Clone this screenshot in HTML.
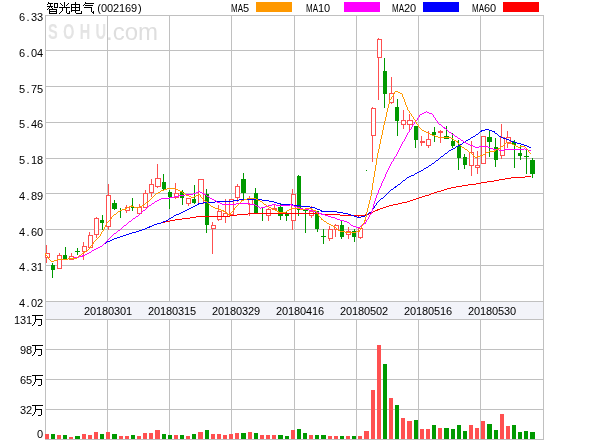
<!DOCTYPE html>
<html><head><meta charset="utf-8"><title>智光电气(002169)</title>
<style>
html,body{margin:0;padding:0;background:#fff;}
body{width:600px;height:440px;position:relative;overflow:hidden;font-family:"Liberation Sans",sans-serif;}
svg{position:absolute;left:0;top:0;}
.t{position:absolute;font-family:"Liberation Sans",sans-serif;font-size:11px;line-height:12px;height:12px;color:#000;white-space:nowrap;letter-spacing:-0.117px;will-change:transform;}
.r{text-align:right;}
.p{display:inline-block;width:6px;text-align:center;letter-spacing:0;}
.pr{text-align:right;}
.pl{text-align:left;padding-left:1px;width:5px;}
.ma{display:inline-block;width:12px;letter-spacing:0;transform:scaleX(0.727);transform-origin:0 50%;}
.cj{display:inline-block;width:12px;height:1px;overflow:hidden;color:transparent;font-size:1px;letter-spacing:0;vertical-align:baseline;}
.wm{position:absolute;color:#e4e4e4;font-family:"Liberation Sans",sans-serif;white-space:nowrap;will-change:transform;}
</style></head>
<body>
<svg width="600" height="440" viewBox="0 0 600 440" shape-rendering="crispEdges">
<rect x="45" y="301" width="499" height="19" fill="#f2f3f9"/>
<rect x="45" y="15" width="499" height="1" fill="#c0c0c0"/>
<rect x="45" y="50" width="499" height="1" fill="#c0c0c0"/>
<rect x="45" y="86" width="499" height="1" fill="#c0c0c0"/>
<rect x="45" y="122" width="499" height="1" fill="#c0c0c0"/>
<rect x="45" y="158" width="499" height="1" fill="#c0c0c0"/>
<rect x="45" y="193" width="499" height="1" fill="#c0c0c0"/>
<rect x="45" y="229" width="499" height="1" fill="#c0c0c0"/>
<rect x="45" y="265" width="499" height="1" fill="#c0c0c0"/>
<rect x="45" y="301" width="499" height="1" fill="#c0c0c0"/>
<rect x="45" y="319" width="499" height="1" fill="#c0c0c0"/>
<rect x="45" y="349" width="499" height="1" fill="#c0c0c0"/>
<rect x="45" y="379" width="499" height="1" fill="#c0c0c0"/>
<rect x="45" y="409" width="499" height="1" fill="#c0c0c0"/>
<rect x="45" y="439" width="499" height="1" fill="#c0c0c0"/>
<rect x="45" y="15" width="1" height="287" fill="#c0c0c0"/>
<rect x="45" y="319" width="1" height="121" fill="#c0c0c0"/>
<rect x="107" y="15" width="1" height="287" fill="#c0c0c0"/>
<rect x="107" y="319" width="1" height="121" fill="#c0c0c0"/>
<rect x="169" y="15" width="1" height="287" fill="#c0c0c0"/>
<rect x="169" y="319" width="1" height="121" fill="#c0c0c0"/>
<rect x="231" y="15" width="1" height="287" fill="#c0c0c0"/>
<rect x="231" y="319" width="1" height="121" fill="#c0c0c0"/>
<rect x="294" y="15" width="1" height="287" fill="#c0c0c0"/>
<rect x="294" y="319" width="1" height="121" fill="#c0c0c0"/>
<rect x="356" y="15" width="1" height="287" fill="#c0c0c0"/>
<rect x="356" y="319" width="1" height="121" fill="#c0c0c0"/>
<rect x="418" y="15" width="1" height="287" fill="#c0c0c0"/>
<rect x="418" y="319" width="1" height="121" fill="#c0c0c0"/>
<rect x="480" y="15" width="1" height="287" fill="#c0c0c0"/>
<rect x="480" y="319" width="1" height="121" fill="#c0c0c0"/>
<rect x="543" y="15" width="1" height="287" fill="#c0c0c0"/>
<rect x="543" y="319" width="1" height="121" fill="#c0c0c0"/>
<rect x="45" y="15" width="1" height="425" fill="#c0c0c0"/>
<rect x="543" y="15" width="1" height="425" fill="#c0c0c0"/>
<rect x="45" y="434" width="4" height="5" fill="#ff5050"/>
<rect x="51" y="434" width="4" height="5" fill="#009900"/>
<rect x="57" y="435" width="4" height="4" fill="#ff5050"/>
<rect x="63" y="435" width="4" height="4" fill="#009900"/>
<rect x="69" y="437" width="4" height="2" fill="#ff5050"/>
<rect x="75" y="436" width="5" height="3" fill="#009900"/>
<rect x="82" y="434" width="4" height="5" fill="#ff5050"/>
<rect x="88" y="435" width="4" height="4" fill="#ff5050"/>
<rect x="94" y="432" width="4" height="7" fill="#ff5050"/>
<rect x="100" y="434" width="4" height="5" fill="#009900"/>
<rect x="106" y="432" width="4" height="7" fill="#ff5050"/>
<rect x="112" y="434" width="5" height="5" fill="#009900"/>
<rect x="119" y="436" width="4" height="3" fill="#ff5050"/>
<rect x="125" y="436" width="4" height="3" fill="#ff5050"/>
<rect x="131" y="435" width="4" height="4" fill="#009900"/>
<rect x="137" y="436" width="4" height="3" fill="#ff5050"/>
<rect x="143" y="433" width="4" height="6" fill="#ff5050"/>
<rect x="149" y="433" width="4" height="6" fill="#ff5050"/>
<rect x="155" y="430" width="5" height="9" fill="#ff5050"/>
<rect x="162" y="434" width="4" height="5" fill="#009900"/>
<rect x="168" y="435" width="4" height="4" fill="#009900"/>
<rect x="174" y="435" width="4" height="4" fill="#ff5050"/>
<rect x="180" y="435" width="4" height="4" fill="#009900"/>
<rect x="186" y="436" width="4" height="3" fill="#ff5050"/>
<rect x="192" y="434" width="4" height="5" fill="#009900"/>
<rect x="198" y="432" width="5" height="7" fill="#ff5050"/>
<rect x="205" y="430" width="4" height="9" fill="#009900"/>
<rect x="211" y="434" width="4" height="5" fill="#ff5050"/>
<rect x="217" y="434" width="4" height="5" fill="#ff5050"/>
<rect x="223" y="435" width="4" height="4" fill="#ff5050"/>
<rect x="229" y="434" width="4" height="5" fill="#ff5050"/>
<rect x="235" y="433" width="4" height="6" fill="#ff5050"/>
<rect x="241" y="433" width="5" height="6" fill="#009900"/>
<rect x="248" y="432" width="4" height="7" fill="#ff5050"/>
<rect x="254" y="433" width="4" height="6" fill="#009900"/>
<rect x="260" y="435" width="4" height="4" fill="#ff5050"/>
<rect x="266" y="435" width="4" height="4" fill="#ff5050"/>
<rect x="272" y="435" width="4" height="4" fill="#ff5050"/>
<rect x="278" y="435" width="5" height="4" fill="#009900"/>
<rect x="285" y="436" width="4" height="3" fill="#009900"/>
<rect x="291" y="430" width="4" height="9" fill="#ff5050"/>
<rect x="297" y="429" width="4" height="10" fill="#009900"/>
<rect x="303" y="433" width="4" height="6" fill="#009900"/>
<rect x="309" y="435" width="4" height="4" fill="#ff5050"/>
<rect x="315" y="435" width="4" height="4" fill="#009900"/>
<rect x="321" y="435" width="5" height="4" fill="#009900"/>
<rect x="328" y="436" width="4" height="3" fill="#ff5050"/>
<rect x="334" y="436" width="4" height="3" fill="#ff5050"/>
<rect x="340" y="436" width="4" height="3" fill="#009900"/>
<rect x="346" y="436" width="4" height="3" fill="#ff5050"/>
<rect x="352" y="436" width="4" height="3" fill="#009900"/>
<rect x="358" y="436" width="4" height="3" fill="#ff5050"/>
<rect x="364" y="431" width="5" height="8" fill="#ff5050"/>
<rect x="371" y="390" width="4" height="49" fill="#ff5050"/>
<rect x="377" y="345" width="4" height="94" fill="#ff5050"/>
<rect x="383" y="364" width="4" height="75" fill="#009900"/>
<rect x="389" y="398" width="4" height="41" fill="#ff5050"/>
<rect x="395" y="405" width="4" height="34" fill="#009900"/>
<rect x="401" y="418" width="4" height="21" fill="#ff5050"/>
<rect x="407" y="421" width="5" height="18" fill="#ff5050"/>
<rect x="414" y="420" width="4" height="19" fill="#009900"/>
<rect x="420" y="429" width="4" height="10" fill="#ff5050"/>
<rect x="426" y="429" width="4" height="10" fill="#ff5050"/>
<rect x="432" y="425" width="4" height="14" fill="#009900"/>
<rect x="438" y="428" width="4" height="11" fill="#ff5050"/>
<rect x="444" y="428" width="5" height="11" fill="#009900"/>
<rect x="451" y="429" width="4" height="10" fill="#009900"/>
<rect x="457" y="425" width="4" height="14" fill="#009900"/>
<rect x="463" y="431" width="4" height="8" fill="#009900"/>
<rect x="469" y="425" width="4" height="14" fill="#ff5050"/>
<rect x="475" y="428" width="4" height="11" fill="#ff5050"/>
<rect x="481" y="421" width="4" height="18" fill="#ff5050"/>
<rect x="487" y="424" width="5" height="15" fill="#009900"/>
<rect x="494" y="430" width="4" height="9" fill="#009900"/>
<rect x="500" y="414" width="4" height="25" fill="#ff5050"/>
<rect x="506" y="426" width="4" height="13" fill="#ff5050"/>
<rect x="512" y="425" width="4" height="14" fill="#009900"/>
<rect x="518" y="432" width="4" height="7" fill="#009900"/>
<rect x="524" y="431" width="4" height="8" fill="#009900"/>
<rect x="530" y="432" width="5" height="7" fill="#009900"/>
<rect x="46" y="245" width="1" height="18" fill="#ff5050"/>
<rect x="45.5" y="253.5" width="4" height="4" fill="#fff" stroke="#ff5050" stroke-width="1"/>
<rect x="52" y="263" width="1" height="15" fill="#009900"/>
<rect x="51" y="265" width="4" height="5" fill="#009900"/>
<rect x="59" y="253" width="1" height="16" fill="#ff5050"/>
<rect x="57.5" y="255.5" width="4" height="13" fill="#fff" stroke="#ff5050" stroke-width="1"/>
<rect x="65" y="247" width="1" height="12" fill="#009900"/>
<rect x="63" y="255" width="4" height="4" fill="#009900"/>
<rect x="71" y="253" width="1" height="7" fill="#ff5050"/>
<rect x="69.5" y="256.5" width="4" height="3" fill="#fff" stroke="#ff5050" stroke-width="1"/>
<rect x="77" y="248" width="1" height="7" fill="#009900"/>
<rect x="75" y="251" width="5" height="1" fill="#009900"/>
<rect x="83" y="242" width="1" height="18" fill="#ff5050"/>
<rect x="82.5" y="246.5" width="4" height="5" fill="#fff" stroke="#ff5050" stroke-width="1"/>
<rect x="89" y="232" width="1" height="16" fill="#ff5050"/>
<rect x="88.5" y="235.5" width="4" height="12" fill="#fff" stroke="#ff5050" stroke-width="1"/>
<rect x="96" y="217" width="1" height="21" fill="#ff5050"/>
<rect x="94.5" y="218.5" width="4" height="16" fill="#fff" stroke="#ff5050" stroke-width="1"/>
<rect x="102" y="215" width="1" height="15" fill="#009900"/>
<rect x="100" y="220" width="4" height="3" fill="#009900"/>
<rect x="108" y="184" width="1" height="46" fill="#ff5050"/>
<rect x="106.5" y="195.5" width="4" height="31" fill="#fff" stroke="#ff5050" stroke-width="1"/>
<rect x="114" y="200" width="1" height="10" fill="#009900"/>
<rect x="112" y="203" width="5" height="6" fill="#009900"/>
<rect x="120" y="208" width="1" height="10" fill="#009900"/>
<rect x="126" y="205" width="1" height="8" fill="#ff5050"/>
<rect x="125.5" y="207.5" width="4" height="3" fill="#fff" stroke="#ff5050" stroke-width="1"/>
<rect x="132" y="198" width="1" height="13" fill="#009900"/>
<rect x="131" y="207" width="5" height="1" fill="#009900"/>
<rect x="139" y="204" width="1" height="10" fill="#ff5050"/>
<rect x="137.5" y="207.5" width="4" height="6" fill="#fff" stroke="#ff5050" stroke-width="1"/>
<rect x="145" y="190" width="1" height="18" fill="#ff5050"/>
<rect x="143.5" y="193.5" width="4" height="14" fill="#fff" stroke="#ff5050" stroke-width="1"/>
<rect x="151" y="179" width="1" height="18" fill="#ff5050"/>
<rect x="149.5" y="184.5" width="4" height="8" fill="#fff" stroke="#ff5050" stroke-width="1"/>
<rect x="157" y="164" width="1" height="24" fill="#ff5050"/>
<rect x="155.5" y="178.5" width="5" height="8" fill="#fff" stroke="#ff5050" stroke-width="1"/>
<rect x="163" y="174" width="1" height="17" fill="#009900"/>
<rect x="162" y="182" width="4" height="7" fill="#009900"/>
<rect x="169" y="190" width="1" height="19" fill="#009900"/>
<rect x="168" y="192" width="4" height="5" fill="#009900"/>
<rect x="175" y="183" width="1" height="16" fill="#ff5050"/>
<rect x="174.5" y="193.5" width="4" height="4" fill="#fff" stroke="#ff5050" stroke-width="1"/>
<rect x="182" y="190" width="1" height="15" fill="#009900"/>
<rect x="180" y="192" width="4" height="6" fill="#009900"/>
<rect x="188" y="198" width="1" height="8" fill="#ff5050"/>
<rect x="186.5" y="198.5" width="4" height="5" fill="#fff" stroke="#ff5050" stroke-width="1"/>
<rect x="194" y="185" width="1" height="19" fill="#009900"/>
<rect x="192" y="199" width="4" height="4" fill="#009900"/>
<rect x="200" y="179" width="1" height="25" fill="#ff5050"/>
<rect x="198.5" y="179.5" width="5" height="24" fill="#fff" stroke="#ff5050" stroke-width="1"/>
<rect x="206" y="189" width="1" height="44" fill="#009900"/>
<rect x="205" y="194" width="4" height="31" fill="#009900"/>
<rect x="212" y="222" width="1" height="32" fill="#ff5050"/>
<rect x="211.5" y="225.5" width="4" height="3" fill="#fff" stroke="#ff5050" stroke-width="1"/>
<rect x="218" y="205" width="1" height="16" fill="#ff5050"/>
<rect x="217.5" y="211.5" width="4" height="8" fill="#fff" stroke="#ff5050" stroke-width="1"/>
<rect x="225" y="199" width="1" height="24" fill="#ff5050"/>
<rect x="223.5" y="213.5" width="4" height="3" fill="#fff" stroke="#ff5050" stroke-width="1"/>
<rect x="231" y="199" width="1" height="16" fill="#ff5050"/>
<rect x="229.5" y="199.5" width="4" height="15" fill="#fff" stroke="#ff5050" stroke-width="1"/>
<rect x="237" y="184" width="1" height="18" fill="#ff5050"/>
<rect x="235.5" y="186.5" width="4" height="11" fill="#fff" stroke="#ff5050" stroke-width="1"/>
<rect x="243" y="173" width="1" height="28" fill="#009900"/>
<rect x="241" y="179" width="5" height="14" fill="#009900"/>
<rect x="249" y="196" width="1" height="20" fill="#ff5050"/>
<rect x="248.5" y="199.5" width="4" height="5" fill="#fff" stroke="#ff5050" stroke-width="1"/>
<rect x="255" y="188" width="1" height="25" fill="#009900"/>
<rect x="254" y="193" width="4" height="20" fill="#009900"/>
<rect x="262" y="208" width="1" height="13" fill="#009900"/>
<rect x="268" y="208" width="1" height="13" fill="#ff5050"/>
<rect x="266.5" y="209.5" width="4" height="6" fill="#fff" stroke="#ff5050" stroke-width="1"/>
<rect x="274" y="205" width="1" height="5" fill="#ff5050"/>
<rect x="272" y="208" width="5" height="2" fill="#ff5050"/>
<rect x="280" y="204" width="1" height="16" fill="#009900"/>
<rect x="278" y="207" width="5" height="9" fill="#009900"/>
<rect x="286" y="211" width="1" height="10" fill="#009900"/>
<rect x="285" y="214" width="4" height="2" fill="#009900"/>
<rect x="292" y="189" width="1" height="41" fill="#ff5050"/>
<rect x="291.5" y="194.5" width="4" height="26" fill="#fff" stroke="#ff5050" stroke-width="1"/>
<rect x="298" y="175" width="1" height="41" fill="#009900"/>
<rect x="297" y="176" width="4" height="34" fill="#009900"/>
<rect x="305" y="209" width="1" height="24" fill="#009900"/>
<rect x="303" y="210" width="5" height="1" fill="#009900"/>
<rect x="311" y="206" width="1" height="12" fill="#ff5050"/>
<rect x="309.5" y="211.5" width="4" height="4" fill="#fff" stroke="#ff5050" stroke-width="1"/>
<rect x="317" y="211" width="1" height="21" fill="#009900"/>
<rect x="315" y="211" width="4" height="18" fill="#009900"/>
<rect x="323" y="229" width="1" height="15" fill="#009900"/>
<rect x="321" y="236" width="5" height="1" fill="#009900"/>
<rect x="329" y="226" width="1" height="15" fill="#ff5050"/>
<rect x="328.5" y="229.5" width="4" height="9" fill="#fff" stroke="#ff5050" stroke-width="1"/>
<rect x="335" y="224" width="1" height="13" fill="#ff5050"/>
<rect x="334.5" y="225.5" width="4" height="4" fill="#fff" stroke="#ff5050" stroke-width="1"/>
<rect x="341" y="221" width="1" height="18" fill="#009900"/>
<rect x="340" y="225" width="4" height="12" fill="#009900"/>
<rect x="348" y="227" width="1" height="12" fill="#ff5050"/>
<rect x="346.5" y="231.5" width="4" height="3" fill="#fff" stroke="#ff5050" stroke-width="1"/>
<rect x="354" y="229" width="1" height="13" fill="#009900"/>
<rect x="352" y="231" width="4" height="6" fill="#009900"/>
<rect x="360" y="228" width="1" height="11" fill="#ff5050"/>
<rect x="358.5" y="228.5" width="4" height="9" fill="#fff" stroke="#ff5050" stroke-width="1"/>
<rect x="366" y="170" width="1" height="1" fill="#009900"/>
<rect x="372" y="107" width="1" height="55" fill="#ff5050"/>
<rect x="371.5" y="108.5" width="4" height="27" fill="#fff" stroke="#ff5050" stroke-width="1"/>
<rect x="378" y="38" width="1" height="62" fill="#ff5050"/>
<rect x="377.5" y="39.5" width="4" height="18" fill="#fff" stroke="#ff5050" stroke-width="1"/>
<rect x="384" y="58" width="1" height="50" fill="#009900"/>
<rect x="383" y="71" width="4" height="23" fill="#009900"/>
<rect x="391" y="77" width="1" height="27" fill="#ff5050"/>
<rect x="389.5" y="93.5" width="4" height="9" fill="#fff" stroke="#ff5050" stroke-width="1"/>
<rect x="397" y="99" width="1" height="37" fill="#009900"/>
<rect x="395" y="107" width="4" height="14" fill="#009900"/>
<rect x="403" y="110" width="1" height="19" fill="#ff5050"/>
<rect x="401.5" y="120.5" width="4" height="4" fill="#fff" stroke="#ff5050" stroke-width="1"/>
<rect x="409" y="114" width="1" height="18" fill="#ff5050"/>
<rect x="407.5" y="120.5" width="5" height="4" fill="#fff" stroke="#ff5050" stroke-width="1"/>
<rect x="415" y="126" width="1" height="22" fill="#009900"/>
<rect x="414" y="126" width="4" height="14" fill="#009900"/>
<rect x="421" y="136" width="1" height="10" fill="#ff5050"/>
<rect x="420" y="141" width="5" height="2" fill="#ff5050"/>
<rect x="428" y="131" width="1" height="17" fill="#ff5050"/>
<rect x="426.5" y="139.5" width="4" height="6" fill="#fff" stroke="#ff5050" stroke-width="1"/>
<rect x="434" y="127" width="1" height="15" fill="#009900"/>
<rect x="432" y="132" width="4" height="3" fill="#009900"/>
<rect x="440" y="130" width="1" height="13" fill="#ff5050"/>
<rect x="438" y="131" width="5" height="2" fill="#ff5050"/>
<rect x="446" y="126" width="1" height="13" fill="#009900"/>
<rect x="444" y="136" width="5" height="3" fill="#009900"/>
<rect x="452" y="133" width="1" height="15" fill="#009900"/>
<rect x="451" y="141" width="4" height="5" fill="#009900"/>
<rect x="458" y="140" width="1" height="30" fill="#009900"/>
<rect x="457" y="146" width="4" height="12" fill="#009900"/>
<rect x="464" y="154" width="1" height="15" fill="#009900"/>
<rect x="463" y="157" width="4" height="8" fill="#009900"/>
<rect x="471" y="141" width="1" height="35" fill="#ff5050"/>
<rect x="469.5" y="152.5" width="4" height="13" fill="#fff" stroke="#ff5050" stroke-width="1"/>
<rect x="477" y="151" width="1" height="23" fill="#ff5050"/>
<rect x="475.5" y="165.5" width="4" height="2" fill="#fff" stroke="#ff5050" stroke-width="1"/>
<rect x="483" y="136" width="1" height="28" fill="#ff5050"/>
<rect x="481.5" y="136.5" width="4" height="27" fill="#fff" stroke="#ff5050" stroke-width="1"/>
<rect x="489" y="130" width="1" height="27" fill="#009900"/>
<rect x="487" y="137" width="5" height="5" fill="#009900"/>
<rect x="495" y="138" width="1" height="29" fill="#009900"/>
<rect x="494" y="147" width="4" height="13" fill="#009900"/>
<rect x="501" y="124" width="1" height="35" fill="#ff5050"/>
<rect x="500.5" y="137.5" width="4" height="18" fill="#fff" stroke="#ff5050" stroke-width="1"/>
<rect x="507" y="131" width="1" height="17" fill="#ff5050"/>
<rect x="506.5" y="137.5" width="4" height="5" fill="#fff" stroke="#ff5050" stroke-width="1"/>
<rect x="514" y="140" width="1" height="28" fill="#009900"/>
<rect x="512" y="142" width="4" height="3" fill="#009900"/>
<rect x="520" y="145" width="1" height="15" fill="#009900"/>
<rect x="518" y="153" width="4" height="3" fill="#009900"/>
<rect x="526" y="150" width="1" height="24" fill="#009900"/>
<rect x="524" y="156" width="5" height="1" fill="#009900"/>
<rect x="532" y="158" width="1" height="20" fill="#009900"/>
<rect x="530" y="160" width="5" height="14" fill="#009900"/>
<path d="M525 176h6v1h-6zM511 177h14v1h-14zM505 178h6v1h-6zM499 179h6v1h-6zM494 180h5v1h-5zM487 181h7v1h-7zM481 182h6v1h-6zM476 183h5v1h-5zM468 184h8v1h-8zM462 185h6v1h-6zM456 186h6v1h-6zM451 187h5v1h-5zM447 188h4v1h-4zM444 189h3v1h-3zM441 190h3v1h-3zM437 191h4v1h-4zM434 192h3v1h-3zM431 193h3v1h-3zM429 194h2v1h-2zM425 195h4v1h-4zM422 196h3v1h-3zM419 197h3v1h-3zM416 198h3v1h-3zM413 199h3v1h-3zM410 200h3v1h-3zM407 201h3v1h-3zM402 202h5v1h-5zM398 203h4v1h-4zM393 204h5v1h-5zM389 205h4v1h-4zM386 206h3v1h-3zM383 207h3v1h-3zM380 208h3v1h-3zM377 209h3v1h-3zM375 210h3v1h-3zM373 211h2v1h-2zM371 212h2v1h-2zM248 213h74v1h-74zM369 213h3v1h-3zM237 214h11v1h-11zM322 214h18v1h-18zM365 214h4v1h-4zM230 215h7v1h-7zM340 215h25v1h-25zM196 216h34v1h-34zM358 216h1v1h-1zM190 217h6v1h-6zM182 218h8v1h-8zM175 219h7v1h-7zM170 220h5v1h-5zM165 221h5v1h-5zM162 222h3v1h-3z" fill="#ff0000"/>
<path d="M485 129h4v1h-4zM481 130h4v1h-4zM489 130h3v1h-3zM480 131h2v1h-2zM492 131h3v1h-3zM479 132h1v1h-1zM494 132h1v1h-1zM478 133h1v1h-1zM495 133h2v1h-2zM476 134h2v1h-2zM497 134h1v1h-1zM475 135h1v1h-1zM498 135h1v1h-1zM473 136h2v1h-2zM499 136h2v1h-2zM471 137h2v1h-2zM501 137h2v1h-2zM470 138h1v1h-1zM503 138h3v1h-3zM468 139h2v1h-2zM506 139h3v1h-3zM466 140h2v1h-2zM509 140h2v1h-2zM465 141h1v1h-1zM511 141h3v1h-3zM463 142h2v1h-2zM514 142h3v1h-3zM462 143h1v1h-1zM517 143h4v1h-4zM460 144h2v1h-2zM521 144h3v1h-3zM458 145h2v1h-2zM524 145h3v1h-3zM456 146h2v1h-2zM527 146h2v1h-2zM455 147h1v1h-1zM529 147h2v1h-2zM453 148h2v1h-2zM451 149h2v1h-2zM449 150h2v1h-2zM448 151h1v1h-1zM447 152h1v1h-1zM445 153h2v1h-2zM444 154h1v1h-1zM443 155h1v1h-1zM441 156h2v1h-2zM440 157h1v1h-1zM439 158h1v1h-1zM438 159h1v1h-1zM436 160h2v1h-2zM435 161h1v1h-1zM434 162h1v1h-1zM432 163h2v1h-2zM431 164h1v1h-1zM429 165h2v1h-2zM428 166h1v1h-1zM426 167h2v1h-2zM424 168h2v1h-2zM423 169h1v1h-1zM421 170h2v1h-2zM419 171h2v1h-2zM417 172h2v1h-2zM415 173h2v1h-2zM414 174h1v1h-1zM411 175h3v1h-3zM409 176h2v1h-2zM407 177h2v1h-2zM406 178h1v1h-1zM405 179h1v1h-1zM403 180h2v1h-2zM402 181h1v1h-1zM401 182h1v1h-1zM400 183h1v1h-1zM398 184h2v1h-2zM397 185h1v1h-1zM395 186h2v1h-2zM394 187h2v1h-2zM393 188h1v1h-1zM391 189h2v1h-2zM390 190h1v1h-1zM389 191h1v1h-1zM388 192h1v1h-1zM387 193h1v1h-1zM386 194h1v1h-1zM385 195h1v1h-1zM384 196h1v1h-1zM383 197h1v1h-1zM381 198h2v1h-2zM239 199h23v1h-23zM380 199h1v1h-1zM233 200h6v1h-6zM262 200h7v1h-7zM379 200h1v1h-1zM215 201h18v1h-18zM269 201h5v1h-5zM378 201h1v1h-1zM203 202h12v1h-12zM274 202h3v1h-3zM377 202h1v1h-1zM198 203h5v1h-5zM277 203h4v1h-4zM376 203h1v1h-1zM197 204h2v1h-2zM281 204h12v1h-12zM376 204h1v1h-1zM195 205h2v1h-2zM293 205h8v1h-8zM375 205h1v1h-1zM193 206h2v1h-2zM301 206h9v1h-9zM374 206h1v1h-1zM191 207h2v1h-2zM310 207h5v1h-5zM374 207h1v1h-1zM189 208h2v1h-2zM315 208h2v1h-2zM373 208h1v1h-1zM187 209h2v1h-2zM317 209h3v1h-3zM372 209h1v1h-1zM185 210h2v1h-2zM320 210h2v1h-2zM372 210h1v1h-1zM183 211h2v1h-2zM321 211h16v1h-16zM371 211h1v1h-1zM181 212h2v1h-2zM337 212h6v1h-6zM369 212h2v1h-2zM179 213h2v1h-2zM343 213h5v1h-5zM368 213h1v1h-1zM176 214h3v1h-3zM348 214h3v1h-3zM367 214h1v1h-1zM174 215h2v1h-2zM351 215h3v1h-3zM365 215h2v1h-2zM173 216h1v1h-1zM354 216h3v1h-3zM361 216h4v1h-4zM171 217h2v1h-2zM357 217h4v1h-4zM169 218h2v1h-2zM168 219h1v1h-1zM166 220h2v1h-2zM163 221h3v1h-3zM161 222h2v1h-2zM157 223h4v1h-4zM154 224h3v1h-3zM152 225h2v1h-2zM149 226h3v1h-3zM147 227h3v1h-3zM145 228h2v1h-2zM142 229h3v1h-3zM139 230h3v1h-3zM136 231h3v1h-3zM132 232h4v1h-4zM129 233h3v1h-3zM126 234h3v1h-3zM123 235h3v1h-3zM120 236h3v1h-3zM117 237h3v1h-3zM114 238h3v1h-3zM112 239h2v1h-2zM110 240h2v1h-2zM107 241h3v1h-3zM106 242h1v1h-1zM104 243h2v1h-2zM103 244h1v1h-1zM102 245h1v1h-1zM100 246h2v1h-2z" fill="#0000ff"/>
<path d="M426 111h1v1h-1zM424 112h2v1h-2zM427 112h2v1h-2zM422 113h2v1h-2zM429 113h3v1h-3zM420 114h2v1h-2zM432 114h1v1h-1zM419 115h1v1h-1zM433 115h1v1h-1zM419 116h1v1h-1zM433 116h1v1h-1zM418 117h1v1h-1zM434 117h1v1h-1zM417 118h1v1h-1zM435 118h1v1h-1zM417 119h1v1h-1zM435 119h1v1h-1zM416 120h1v1h-1zM436 120h1v1h-1zM415 121h1v1h-1zM437 121h1v1h-1zM414 122h1v1h-1zM437 122h1v1h-1zM414 123h1v1h-1zM438 123h1v1h-1zM413 124h1v1h-1zM439 124h2v1h-2zM412 125h1v1h-1zM441 125h1v1h-1zM412 126h1v1h-1zM442 126h1v1h-1zM411 127h1v1h-1zM443 127h2v1h-2zM411 128h1v1h-1zM444 128h2v1h-2zM410 129h1v1h-1zM446 129h1v1h-1zM409 130h1v1h-1zM447 130h1v1h-1zM409 131h1v1h-1zM448 131h1v1h-1zM408 132h1v1h-1zM449 132h2v1h-2zM407 133h1v1h-1zM451 133h1v1h-1zM407 134h1v1h-1zM452 134h2v1h-2zM406 135h1v1h-1zM454 135h1v1h-1zM406 136h1v1h-1zM455 136h2v1h-2zM405 137h1v1h-1zM457 137h1v1h-1zM405 138h1v1h-1zM458 138h2v1h-2zM404 139h1v1h-1zM460 139h1v1h-1zM404 140h1v1h-1zM461 140h2v1h-2zM403 141h1v1h-1zM463 141h1v1h-1zM402 142h1v1h-1zM464 142h2v1h-2zM402 143h1v1h-1zM466 143h2v1h-2zM401 144h1v1h-1zM468 144h2v1h-2zM401 145h1v1h-1zM470 145h3v1h-3zM400 146h1v1h-1zM473 146h2v1h-2zM479 146h9v1h-9zM400 147h1v1h-1zM475 147h4v1h-4zM488 147h2v1h-2zM399 148h1v1h-1zM490 148h3v1h-3zM524 148h1v1h-1zM399 149h1v1h-1zM493 149h6v1h-6zM504 149h20v1h-20zM525 149h3v1h-3zM398 150h1v1h-1zM499 150h5v1h-5zM528 150h3v1h-3zM398 151h1v1h-1zM397 152h1v1h-1zM397 153h1v1h-1zM396 154h1v1h-1zM396 155h1v1h-1zM395 156h1v1h-1zM394 157h1v1h-1zM394 158h1v1h-1zM393 159h1v1h-1zM393 160h1v1h-1zM392 161h1v1h-1zM391 162h1v1h-1zM391 163h1v1h-1zM390 164h1v1h-1zM390 165h1v1h-1zM389 166h1v1h-1zM389 167h1v1h-1zM388 168h1v1h-1zM388 169h1v1h-1zM387 170h1v1h-1zM387 171h1v1h-1zM386 172h1v1h-1zM386 173h1v1h-1zM385 174h1v1h-1zM385 175h1v1h-1zM385 176h1v1h-1zM384 177h1v1h-1zM384 178h1v1h-1zM383 179h1v1h-1zM383 180h1v1h-1zM382 181h1v1h-1zM382 182h1v1h-1zM381 183h1v1h-1zM381 184h1v1h-1zM381 185h1v1h-1zM380 186h1v1h-1zM380 187h1v1h-1zM379 188h1v1h-1zM379 189h1v1h-1zM378 190h1v1h-1zM198 191h2v1h-2zM378 191h1v1h-1zM196 192h2v1h-2zM200 192h2v1h-2zM378 192h1v1h-1zM193 193h3v1h-3zM202 193h2v1h-2zM377 193h1v1h-1zM185 194h8v1h-8zM204 194h2v1h-2zM377 194h1v1h-1zM179 195h6v1h-6zM206 195h1v1h-1zM376 195h1v1h-1zM174 196h5v1h-5zM207 196h2v1h-2zM376 196h1v1h-1zM170 197h4v1h-4zM209 197h1v1h-1zM376 197h1v1h-1zM161 198h9v1h-9zM210 198h2v1h-2zM375 198h1v1h-1zM159 199h2v1h-2zM212 199h2v1h-2zM375 199h1v1h-1zM157 200h2v1h-2zM214 200h2v1h-2zM375 200h1v1h-1zM155 201h2v1h-2zM216 201h1v1h-1zM374 201h1v1h-1zM154 202h1v1h-1zM217 202h3v1h-3zM374 202h1v1h-1zM152 203h2v1h-2zM220 203h2v1h-2zM236 203h14v1h-14zM374 203h1v1h-1zM151 204h1v1h-1zM222 204h14v1h-14zM250 204h5v1h-5zM272 204h4v1h-4zM290 204h2v1h-2zM373 204h1v1h-1zM149 205h2v1h-2zM255 205h2v1h-2zM268 205h4v1h-4zM276 205h14v1h-14zM291 205h3v1h-3zM373 205h1v1h-1zM148 206h1v1h-1zM257 206h2v1h-2zM265 206h3v1h-3zM294 206h3v1h-3zM373 206h1v1h-1zM147 207h1v1h-1zM259 207h1v1h-1zM261 207h4v1h-4zM297 207h3v1h-3zM373 207h1v1h-1zM146 208h1v1h-1zM260 208h1v1h-1zM300 208h3v1h-3zM372 208h1v1h-1zM145 209h1v1h-1zM303 209h6v1h-6zM372 209h1v1h-1zM143 210h2v1h-2zM309 210h4v1h-4zM372 210h1v1h-1zM142 211h1v1h-1zM313 211h3v1h-3zM371 211h1v1h-1zM141 212h1v1h-1zM316 212h3v1h-3zM371 212h1v1h-1zM140 213h1v1h-1zM319 213h3v1h-3zM371 213h1v1h-1zM139 214h1v1h-1zM321 214h4v1h-4zM370 214h1v1h-1zM138 215h1v1h-1zM325 215h3v1h-3zM369 215h1v1h-1zM136 216h2v1h-2zM328 216h3v1h-3zM369 216h1v1h-1zM135 217h1v1h-1zM331 217h4v1h-4zM368 217h1v1h-1zM133 218h2v1h-2zM335 218h2v1h-2zM368 218h1v1h-1zM132 219h1v1h-1zM337 219h3v1h-3zM367 219h1v1h-1zM131 220h1v1h-1zM340 220h4v1h-4zM366 220h1v1h-1zM129 221h2v1h-2zM344 221h3v1h-3zM366 221h1v1h-1zM128 222h1v1h-1zM347 222h2v1h-2zM365 222h1v1h-1zM127 223h1v1h-1zM349 223h1v1h-1zM364 223h2v1h-2zM126 224h1v1h-1zM350 224h1v1h-1zM363 224h1v1h-1zM124 225h2v1h-2zM351 225h2v1h-2zM361 225h2v1h-2zM123 226h1v1h-1zM353 226h3v1h-3zM360 226h1v1h-1zM122 227h1v1h-1zM356 227h4v1h-4zM121 228h1v1h-1zM120 229h1v1h-1zM118 230h2v1h-2zM117 231h1v1h-1zM116 232h1v1h-1zM114 233h2v1h-2zM113 234h1v1h-1zM112 235h1v1h-1zM111 236h1v1h-1zM110 237h1v1h-1zM109 238h1v1h-1zM108 239h1v1h-1zM107 240h1v1h-1zM106 241h1v1h-1zM105 242h1v1h-1zM104 243h1v1h-1zM103 244h1v1h-1zM102 245h1v1h-1zM100 246h2v1h-2zM98 247h2v1h-2zM96 248h2v1h-2zM94 249h2v1h-2zM92 250h2v1h-2zM91 251h1v1h-1zM89 252h2v1h-2zM87 253h2v1h-2zM85 254h2v1h-2zM82 255h3v1h-3zM79 256h4v1h-4zM74 257h5v1h-5zM69 258h5v1h-5z" fill="#ff00ff"/>
<path d="M395 91h3v1h-3zM394 92h1v1h-1zM398 92h2v1h-2zM394 93h1v1h-1zM400 93h2v1h-2zM393 94h1v1h-1zM402 94h1v1h-1zM393 95h1v1h-1zM402 95h1v1h-1zM392 96h1v1h-1zM402 96h1v1h-1zM391 97h1v1h-1zM403 97h1v1h-1zM391 98h1v1h-1zM403 98h1v1h-1zM390 99h1v1h-1zM404 99h1v1h-1zM389 100h1v1h-1zM404 100h1v1h-1zM389 101h1v1h-1zM404 101h1v1h-1zM389 102h1v1h-1zM405 102h1v1h-1zM389 103h1v1h-1zM405 103h1v1h-1zM388 104h1v1h-1zM405 104h1v1h-1zM388 105h1v1h-1zM406 105h1v1h-1zM388 106h1v1h-1zM406 106h1v1h-1zM388 107h1v1h-1zM407 107h1v1h-1zM387 108h1v1h-1zM407 108h1v1h-1zM387 109h1v1h-1zM407 109h1v1h-1zM387 110h1v1h-1zM408 110h1v1h-1zM387 111h1v1h-1zM409 111h1v1h-1zM386 112h1v1h-1zM409 112h1v1h-1zM386 113h1v1h-1zM410 113h1v1h-1zM386 114h1v1h-1zM411 114h1v1h-1zM386 115h1v1h-1zM411 115h1v1h-1zM386 116h1v1h-1zM412 116h1v1h-1zM385 117h1v1h-1zM413 117h1v1h-1zM385 118h1v1h-1zM413 118h1v1h-1zM385 119h1v1h-1zM414 119h1v1h-1zM385 120h1v1h-1zM415 120h1v1h-1zM384 121h1v1h-1zM415 121h1v1h-1zM384 122h1v1h-1zM416 122h1v1h-1zM384 123h1v1h-1zM416 123h1v1h-1zM384 124h1v1h-1zM417 124h1v1h-1zM383 125h1v1h-1zM418 125h1v1h-1zM383 126h1v1h-1zM418 126h1v1h-1zM383 127h1v1h-1zM419 127h1v1h-1zM383 128h1v1h-1zM420 128h1v1h-1zM383 129h1v1h-1zM421 129h1v1h-1zM382 130h1v1h-1zM422 130h2v1h-2zM382 131h1v1h-1zM424 131h2v1h-2zM382 132h1v1h-1zM426 132h2v1h-2zM382 133h1v1h-1zM428 133h2v1h-2zM382 134h1v1h-1zM430 134h2v1h-2zM381 135h1v1h-1zM432 135h3v1h-3zM381 136h1v1h-1zM435 136h3v1h-3zM381 137h1v1h-1zM438 137h13v1h-13zM381 138h1v1h-1zM451 138h2v1h-2zM380 139h1v1h-1zM453 139h1v1h-1zM380 140h1v1h-1zM454 140h2v1h-2zM380 141h1v1h-1zM456 141h2v1h-2zM380 142h1v1h-1zM457 142h1v1h-1zM506 142h2v1h-2zM380 143h1v1h-1zM458 143h1v1h-1zM505 143h1v1h-1zM508 143h4v1h-4zM379 144h1v1h-1zM459 144h1v1h-1zM504 144h1v1h-1zM512 144h2v1h-2zM379 145h1v1h-1zM460 145h1v1h-1zM503 145h1v1h-1zM514 145h2v1h-2zM379 146h1v1h-1zM461 146h1v1h-1zM501 146h2v1h-2zM516 146h2v1h-2zM520 146h5v1h-5zM379 147h1v1h-1zM462 147h2v1h-2zM500 147h1v1h-1zM518 147h2v1h-2zM525 147h1v1h-1zM379 148h1v1h-1zM464 148h1v1h-1zM498 148h3v1h-3zM526 148h1v1h-1zM378 149h1v1h-1zM465 149h2v1h-2zM496 149h2v1h-2zM527 149h1v1h-1zM378 150h1v1h-1zM467 150h1v1h-1zM494 150h2v1h-2zM528 150h1v1h-1zM378 151h1v1h-1zM468 151h1v1h-1zM489 151h6v1h-6zM528 151h1v1h-1zM378 152h1v1h-1zM469 152h2v1h-2zM486 152h3v1h-3zM529 152h1v1h-1zM377 153h1v1h-1zM471 153h1v1h-1zM485 153h1v1h-1zM530 153h1v1h-1zM377 154h1v1h-1zM472 154h1v1h-1zM483 154h2v1h-2zM377 155h1v1h-1zM473 155h1v1h-1zM480 155h3v1h-3zM377 156h1v1h-1zM474 156h1v1h-1zM477 156h3v1h-3zM377 157h1v1h-1zM475 157h2v1h-2zM376 158h1v1h-1zM376 159h1v1h-1zM376 160h1v1h-1zM376 161h1v1h-1zM376 162h1v1h-1zM376 163h1v1h-1zM376 164h1v1h-1zM375 165h1v1h-1zM375 166h1v1h-1zM375 167h1v1h-1zM375 168h1v1h-1zM375 169h1v1h-1zM375 170h1v1h-1zM374 171h1v1h-1zM374 172h1v1h-1zM374 173h1v1h-1zM374 174h1v1h-1zM374 175h1v1h-1zM374 176h1v1h-1zM373 177h1v1h-1zM373 178h1v1h-1zM373 179h1v1h-1zM373 180h1v1h-1zM373 181h1v1h-1zM373 182h1v1h-1zM372 183h1v1h-1zM372 184h1v1h-1zM372 185h1v1h-1zM372 186h1v1h-1zM372 187h1v1h-1zM167 188h9v1h-9zM372 188h1v1h-1zM164 189h3v1h-3zM176 189h2v1h-2zM372 189h1v1h-1zM161 190h3v1h-3zM178 190h2v1h-2zM371 190h1v1h-1zM160 191h1v1h-1zM180 191h2v1h-2zM371 191h1v1h-1zM158 192h2v1h-2zM182 192h1v1h-1zM371 192h1v1h-1zM156 193h2v1h-2zM183 193h2v1h-2zM371 193h1v1h-1zM155 194h1v1h-1zM185 194h1v1h-1zM198 194h2v1h-2zM371 194h1v1h-1zM154 195h1v1h-1zM186 195h3v1h-3zM196 195h2v1h-2zM200 195h1v1h-1zM371 195h1v1h-1zM153 196h1v1h-1zM189 196h2v1h-2zM194 196h2v1h-2zM200 196h1v1h-1zM370 196h1v1h-1zM152 197h1v1h-1zM191 197h3v1h-3zM201 197h1v1h-1zM370 197h1v1h-1zM151 198h1v1h-1zM202 198h1v1h-1zM247 198h9v1h-9zM370 198h1v1h-1zM150 199h1v1h-1zM203 199h1v1h-1zM244 199h3v1h-3zM256 199h2v1h-2zM370 199h1v1h-1zM149 200h1v1h-1zM204 200h1v1h-1zM241 200h3v1h-3zM258 200h2v1h-2zM369 200h1v1h-1zM148 201h1v1h-1zM205 201h2v1h-2zM241 201h1v1h-1zM260 201h2v1h-2zM369 201h1v1h-1zM146 202h2v1h-2zM207 202h1v1h-1zM240 202h1v1h-1zM262 202h1v1h-1zM369 202h1v1h-1zM145 203h1v1h-1zM208 203h1v1h-1zM239 203h1v1h-1zM263 203h1v1h-1zM369 203h1v1h-1zM144 204h1v1h-1zM209 204h1v1h-1zM238 204h1v1h-1zM264 204h2v1h-2zM368 204h1v1h-1zM131 205h1v1h-1zM142 205h2v1h-2zM210 205h1v1h-1zM237 205h1v1h-1zM266 205h1v1h-1zM368 205h1v1h-1zM129 206h5v1h-5zM140 206h2v1h-2zM211 206h2v1h-2zM236 206h1v1h-1zM267 206h2v1h-2zM368 206h1v1h-1zM127 207h2v1h-2zM134 207h3v1h-3zM138 207h2v1h-2zM213 207h2v1h-2zM235 207h1v1h-1zM269 207h2v1h-2zM368 207h1v1h-1zM125 208h2v1h-2zM137 208h1v1h-1zM215 208h3v1h-3zM234 208h1v1h-1zM271 208h2v1h-2zM291 208h9v1h-9zM305 208h6v1h-6zM367 208h1v1h-1zM122 209h4v1h-4zM218 209h3v1h-3zM234 209h1v1h-1zM273 209h2v1h-2zM289 209h2v1h-2zM300 209h5v1h-5zM311 209h2v1h-2zM367 209h1v1h-1zM120 210h2v1h-2zM221 210h3v1h-3zM233 210h1v1h-1zM275 210h2v1h-2zM287 210h2v1h-2zM313 210h3v1h-3zM367 210h1v1h-1zM118 211h2v1h-2zM223 211h2v1h-2zM232 211h1v1h-1zM277 211h2v1h-2zM286 211h1v1h-1zM316 211h1v1h-1zM367 211h1v1h-1zM117 212h1v1h-1zM225 212h2v1h-2zM231 212h1v1h-1zM278 212h8v1h-8zM316 212h1v1h-1zM366 212h1v1h-1zM116 213h1v1h-1zM227 213h1v1h-1zM230 213h1v1h-1zM317 213h1v1h-1zM366 213h1v1h-1zM114 214h2v1h-2zM228 214h3v1h-3zM318 214h1v1h-1zM366 214h1v1h-1zM113 215h1v1h-1zM229 215h1v1h-1zM318 215h1v1h-1zM366 215h1v1h-1zM112 216h1v1h-1zM319 216h1v1h-1zM366 216h1v1h-1zM111 217h1v1h-1zM320 217h1v1h-1zM365 217h1v1h-1zM111 218h1v1h-1zM321 218h1v1h-1zM365 218h1v1h-1zM110 219h1v1h-1zM321 219h2v1h-2zM365 219h1v1h-1zM109 220h1v1h-1zM323 220h1v1h-1zM364 220h2v1h-2zM108 221h1v1h-1zM324 221h2v1h-2zM364 221h1v1h-1zM107 222h1v1h-1zM326 222h1v1h-1zM364 222h1v1h-1zM106 223h1v1h-1zM327 223h2v1h-2zM363 223h1v1h-1zM106 224h1v1h-1zM329 224h2v1h-2zM362 224h1v1h-1zM105 225h1v1h-1zM331 225h2v1h-2zM362 225h1v1h-1zM105 226h1v1h-1zM333 226h2v1h-2zM361 226h1v1h-1zM104 227h1v1h-1zM335 227h1v1h-1zM361 227h1v1h-1zM104 228h1v1h-1zM336 228h1v1h-1zM360 228h1v1h-1zM103 229h1v1h-1zM337 229h1v1h-1zM360 229h1v1h-1zM103 230h1v1h-1zM338 230h2v1h-2zM359 230h1v1h-1zM102 231h1v1h-1zM340 231h5v1h-5zM356 231h4v1h-4zM101 232h1v1h-1zM345 232h11v1h-11zM101 233h1v1h-1zM100 234h1v1h-1zM100 235h1v1h-1zM99 236h1v1h-1zM98 237h1v1h-1zM97 238h1v1h-1zM96 239h1v1h-1zM95 240h1v1h-1zM94 241h1v1h-1zM93 242h1v1h-1zM93 243h1v1h-1zM92 244h1v1h-1zM91 245h1v1h-1zM90 246h1v1h-1zM90 247h1v1h-1zM89 248h1v1h-1zM88 249h1v1h-1zM86 250h2v1h-2zM85 251h1v1h-1zM83 252h2v1h-2zM45 253h1v1h-1zM82 253h1v1h-1zM45 254h1v1h-1zM81 254h1v1h-1zM46 255h1v1h-1zM79 255h2v1h-2zM47 256h1v1h-1zM78 256h1v1h-1zM48 257h1v1h-1zM77 257h1v1h-1zM48 258h1v1h-1zM68 258h9v1h-9zM49 259h1v1h-1zM57 259h11v1h-11zM50 260h1v1h-1zM54 260h3v1h-3zM51 261h3v1h-3z" fill="#ff9900"/>
<rect x="256" y="2" width="36" height="10" fill="#ff9900"/>
<rect x="344" y="2" width="36" height="10" fill="#ff00ff"/>
<rect x="423" y="2" width="36" height="10" fill="#0000ff"/>
<rect x="503" y="2" width="36" height="10" fill="#ff0000"/>
<path d="M48 2h1v1h-1zM48 3h5v1h-5zM54 3h4v1h-4zM47 4h1v1h-1zM50 4h1v1h-1zM54 4h1v1h-1zM57 4h1v1h-1zM50 5h1v1h-1zM54 5h1v1h-1zM57 5h1v1h-1zM47 6h6v1h-6zM54 6h1v1h-1zM57 6h1v1h-1zM49 7h1v1h-1zM51 7h1v1h-1zM54 7h4v1h-4zM48 8h1v1h-1zM52 8h1v1h-1zM47 9h1v1h-1zM49 9h8v1h-8zM49 10h1v1h-1zM56 10h1v1h-1zM49 11h8v1h-8zM49 12h1v1h-1zM56 12h1v1h-1zM49 13h8v1h-8z" fill="#000"/>
<path d="M64 2h1v1h-1zM60 3h1v1h-1zM64 3h1v1h-1zM68 3h1v1h-1zM61 4h1v1h-1zM64 4h1v1h-1zM67 4h1v1h-1zM62 5h1v1h-1zM64 5h1v1h-1zM66 5h1v1h-1zM64 6h1v1h-1zM59 7h11v1h-11zM62 8h1v1h-1zM66 8h1v1h-1zM62 9h1v1h-1zM66 9h1v1h-1zM62 10h1v1h-1zM66 10h1v1h-1zM61 11h1v1h-1zM66 11h1v1h-1zM69 11h1v1h-1zM60 12h1v1h-1zM66 12h1v1h-1zM69 12h1v1h-1zM59 13h1v1h-1zM67 13h3v1h-3z" fill="#000"/>
<path d="M75 2h1v1h-1zM75 3h1v1h-1zM71 4h9v1h-9zM71 5h1v1h-1zM75 5h1v1h-1zM79 5h1v1h-1zM71 6h1v1h-1zM75 6h1v1h-1zM79 6h1v1h-1zM71 7h9v1h-9zM71 8h1v1h-1zM75 8h1v1h-1zM79 8h1v1h-1zM71 9h1v1h-1zM75 9h1v1h-1zM79 9h1v1h-1zM71 10h9v1h-9zM71 11h1v1h-1zM75 11h1v1h-1zM81 11h1v1h-1zM75 12h1v1h-1zM81 12h1v1h-1zM76 13h6v1h-6z" fill="#000"/>
<path d="M85 2h1v1h-1zM85 3h9v1h-9zM84 4h1v1h-1zM83 5h1v1h-1zM85 5h8v1h-8zM84 7h8v1h-8zM91 8h1v1h-1zM91 9h1v1h-1zM91 10h1v1h-1zM91 11h1v1h-1zM93 11h1v1h-1zM92 12h2v1h-2zM93 13h1v1h-1z" fill="#000"/>
<path d="M32 315h11v1h-11zM35 316h1v1h-1zM35 317h1v1h-1zM35 318h1v1h-1zM35 319h7v1h-7zM35 320h1v1h-1zM41 320h1v1h-1zM35 321h1v1h-1zM41 321h1v1h-1zM34 322h1v1h-1zM41 322h1v1h-1zM34 323h1v1h-1zM41 323h1v1h-1zM33 324h1v1h-1zM41 324h1v1h-1zM32 325h1v1h-1zM38 325h3v1h-3z" fill="#000"/>
<path d="M32 345h11v1h-11zM35 346h1v1h-1zM35 347h1v1h-1zM35 348h1v1h-1zM35 349h7v1h-7zM35 350h1v1h-1zM41 350h1v1h-1zM35 351h1v1h-1zM41 351h1v1h-1zM34 352h1v1h-1zM41 352h1v1h-1zM34 353h1v1h-1zM41 353h1v1h-1zM33 354h1v1h-1zM41 354h1v1h-1zM32 355h1v1h-1zM38 355h3v1h-3z" fill="#000"/>
<path d="M32 375h11v1h-11zM35 376h1v1h-1zM35 377h1v1h-1zM35 378h1v1h-1zM35 379h7v1h-7zM35 380h1v1h-1zM41 380h1v1h-1zM35 381h1v1h-1zM41 381h1v1h-1zM34 382h1v1h-1zM41 382h1v1h-1zM34 383h1v1h-1zM41 383h1v1h-1zM33 384h1v1h-1zM41 384h1v1h-1zM32 385h1v1h-1zM38 385h3v1h-3z" fill="#000"/>
<path d="M32 405h11v1h-11zM35 406h1v1h-1zM35 407h1v1h-1zM35 408h1v1h-1zM35 409h7v1h-7zM35 410h1v1h-1zM41 410h1v1h-1zM35 411h1v1h-1zM41 411h1v1h-1zM34 412h1v1h-1zM41 412h1v1h-1zM34 413h1v1h-1zM41 413h1v1h-1zM33 414h1v1h-1zM41 414h1v1h-1zM32 415h1v1h-1zM38 415h3v1h-3z" fill="#000"/>
</svg>
<div class="wm" style="left:48px;top:20px;font-size:22px;line-height:24px;font-weight:bold;letter-spacing:8.1px;transform:scaleX(0.66);transform-origin:0 0;">SOHU</div>
<div class="wm" style="left:106px;top:18px;font-size:24px;line-height:28px;color:#dedede;">.com</div>
<div class="t r" style="left:0;width:43px;top:11px">6<span class="p">.</span>33</div>
<div class="t r" style="left:0;width:43px;top:47px">6<span class="p">.</span>04</div>
<div class="t r" style="left:0;width:43px;top:83px">5<span class="p">.</span>75</div>
<div class="t r" style="left:0;width:43px;top:118px">5<span class="p">.</span>46</div>
<div class="t r" style="left:0;width:43px;top:154px">5<span class="p">.</span>18</div>
<div class="t r" style="left:0;width:43px;top:190px">4<span class="p">.</span>89</div>
<div class="t r" style="left:0;width:43px;top:226px">4<span class="p">.</span>60</div>
<div class="t r" style="left:0;width:43px;top:261px">4<span class="p">.</span>31</div>
<div class="t r" style="left:0;width:43px;top:297px">4<span class="p">.</span>02</div>
<div class="t r" style="left:0;width:44px;top:314px">131<span class="cj">万</span></div>
<div class="t r" style="left:0;width:44px;top:344px">98<span class="cj">万</span></div>
<div class="t r" style="left:0;width:44px;top:374px">65<span class="cj">万</span></div>
<div class="t r" style="left:0;width:44px;top:404px">32<span class="cj">万</span></div>
<div class="t r" style="left:0;width:43px;top:428px">0</div>
<div class="t " style="left:84px;top:305px">20180301</div>
<div class="t " style="left:148px;top:305px">20180315</div>
<div class="t " style="left:212px;top:305px">20180329</div>
<div class="t " style="left:276px;top:305px">20180416</div>
<div class="t " style="left:340px;top:305px">20180502</div>
<div class="t " style="left:404px;top:305px">20180516</div>
<div class="t " style="left:468px;top:305px">20180530</div>
<div class="t " style="left:47px;top:2px"><span class="cj" style="width:48px">智光电气</span><span class="p pr">(</span>002169<span class="p pl">)</span></div>
<div class="t " style="left:231px;top:2px"><span class="ma">MA</span>5</div>
<div class="t " style="left:306px;top:2px"><span class="ma">MA</span>10</div>
<div class="t " style="left:392px;top:2px"><span class="ma">MA</span>20</div>
<div class="t " style="left:472px;top:2px"><span class="ma">MA</span>60</div>
</body></html>
